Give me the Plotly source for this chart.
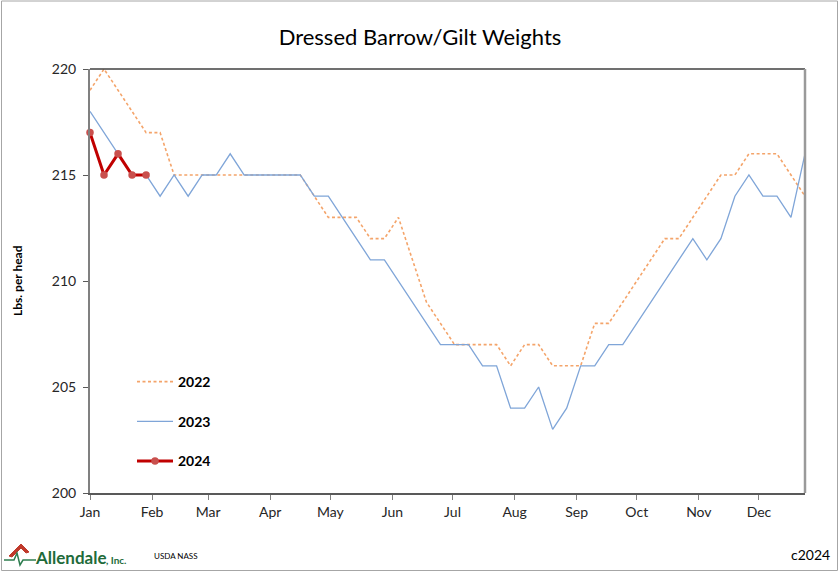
import plotly.graph_objects as go

# ---- data ----
weeks = list(range(52))
y2022 = [219, 220, 219, 218, 217, 217, 215, 215, 215, 215, 215, 215, 215, 215, 215, 215,
         214, 213, 213, 213, 212, 212, 213, 211, 209, 208, 207, 207, 207, 207, 206, 207,
         207, 206, 206, 206, 208, 208, 209, 210, 211, 212, 212, 213, 214, 215, 215, 216,
         216, 216, 215, 214]
y2023 = [218, 217, 216, 215, 215, 214, 215, 214, 215, 215, 216, 215, 215, 215, 215, 215,
         214, 214, 213, 212, 211, 211, 210, 209, 208, 207, 207, 207, 206, 206, 204, 204,
         205, 203, 204, 206, 206, 207, 207, 208, 209, 210, 211, 212, 211, 212, 214, 215,
         214, 214, 213, 216]
y2024 = [217, 215, 216, 215, 215]
months = ["Jan", "Feb", "Mar", "Apr", "May", "Jun", "Jul", "Aug", "Sep", "Oct", "Nov", "Dec"]
month_start_day = [0, 31, 59, 90, 120, 151, 181, 212, 243, 273, 304, 334]

# ---- layout geometry (pixels) ----
W, H = 840, 574
L, R, T, B = 90, 805, 69, 493
PW, PH = R - L, B - T


def px(x):
    return (x - L) / PW


def py(y):
    return (B - y) / PH


FONT = "Lato, 'Open Sans', sans-serif"

fig = go.Figure()
fig.add_trace(go.Scatter(
    x=weeks, y=y2022, name="2022", mode="lines", legendgroup="a",
    line=dict(color="#F4A46A", width=1.6, dash="3px,2.5px"),
))
fig.add_trace(go.Scatter(
    x=weeks, y=y2023, name="2023", mode="lines", legendgroup="b",
    line=dict(color="#7FA5D8", width=1.3),
))
fig.add_trace(go.Scatter(
    x=weeks[:len(y2024)], y=y2024, name="2024", mode="lines+markers", legendgroup="c",
    line=dict(color="#C00000", width=3),
    marker=dict(color="#C9504D", size=7.5),
    cliponaxis=False,
))

shapes = [
    # top border of plot area
    dict(type="line", xref="paper", yref="paper", x0=0, x1=1, y0=1, y1=1,
         line=dict(color="#404040", width=1.5)),
    # right border of plot area
    dict(type="line", xref="paper", yref="paper", x0=1, x1=1, y0=0, y1=1,
         line=dict(color="#9A9A9A", width=2.5)),
    # outer chart border
    dict(type="rect", xref="paper", yref="paper", x0=px(1.5), x1=px(837.5),
         y0=py(570.5), y1=py(1), line=dict(color="#A6A6A6", width=1)),
    # logo roof (red)
    dict(type="path", xref="paper", yref="paper",
         path=f"M {px(9)} {py(556)} L {px(21)} {py(544)} L {px(29)} {py(552)} "
              f"L {px(26)} {py(553)} L {px(21)} {py(548)} L {px(12)} {py(557)} Z",
         fillcolor="#C0392B", line=dict(color="#C0392B", width=1)),
    # logo heartbeat (green)
    dict(type="path", xref="paper", yref="paper",
         path=f"M {px(4)} {py(560)} L {px(14)} {py(560)} L {px(17)} {py(553)} "
              f"L {px(20)} {py(565)} L {px(23)} {py(560)} L {px(36)} {py(560)}",
         line=dict(color="#2E7D4F", width=1.5)),
]

annotations = [
    dict(text="Allendale", xref="paper", yref="paper", x=px(33), y=py(557),
         xanchor="left", yanchor="middle", showarrow=False,
         font=dict(family=FONT, size=17, color="#1F6B3A", weight="bold")),
    dict(text=", Inc.", xref="paper", yref="paper", x=px(104), y=py(560),
         xanchor="left", yanchor="middle", showarrow=False,
         font=dict(family=FONT, size=10, color="#1F6B3A", weight="bold")),
    dict(text="USDA NASS", xref="paper", yref="paper", x=px(152), y=py(556),
         xanchor="left", yanchor="middle", showarrow=False,
         font=dict(family=FONT, size=8, color="#000000")),
    dict(text="c2024", xref="paper", yref="paper", x=px(832), y=py(554),
         xanchor="right", yanchor="middle", showarrow=False,
         font=dict(family=FONT, size=14, color="#000000")),
    dict(text="Lbs. per head", xref="paper", yref="paper", x=px(17), y=0.5,
         xanchor="center", yanchor="middle", showarrow=False, textangle=-90,
         font=dict(family=FONT, size=12, color="#000000", weight="bold")),
]

fig.update_layout(
    width=W, height=H,
    margin=dict(l=L, r=W - R, t=T, b=H - B, pad=0),
    paper_bgcolor="white", plot_bgcolor="white",
    title=dict(text="Dressed Barrow/Gilt Weights", x=0.5, xanchor="center",
               y=1 - 37 / H, yanchor="middle",
               font=dict(family=FONT, size=22, color="#000000")),
    font=dict(family=FONT, size=14, color="#262626"),
    xaxis=dict(
        range=[0, 51],
        tickmode="array",
        tickvals=[d / 7 for d in month_start_day],
        ticktext=months,
        ticks="outside", ticklen=5, tickcolor="#808080", tickwidth=1,
        showline=True, linecolor="#595959", linewidth=1.5,
        showgrid=False, zeroline=False,
        tickfont=dict(family=FONT, size=14, color="#262626"),
    ),
    yaxis=dict(
        range=[200, 220], dtick=5, tick0=200,
        ticks="outside", ticklen=5, tickcolor="#595959", tickwidth=1,
        showline=True, linecolor="#808080", linewidth=2,
        showgrid=False, zeroline=False, ticklabelstandoff=4,
        tickfont=dict(family=FONT, size=14, color="#262626"),
    ),
    showlegend=True,
    legend=dict(
        x=px(132), y=py(366), xanchor="left", yanchor="top",
        bgcolor="rgba(0,0,0,0)", borderwidth=0,
        font=dict(family=FONT, size=14, color="#000000", weight="bold"),
        tracegroupgap=18.5, itemwidth=36,
    ),
    shapes=shapes,
    annotations=annotations,
)

fig.write_html("out.html", config={"displayModeBar": False},
               post_script="document.body.style.margin='0';")
